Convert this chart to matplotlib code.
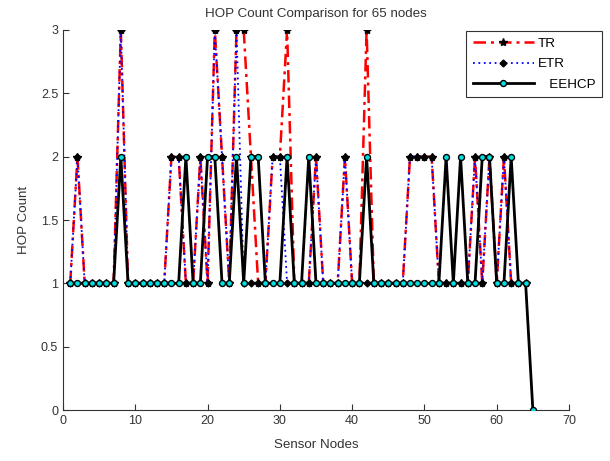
import matplotlib
matplotlib.use("Agg")
import matplotlib.pyplot as plt
import numpy as np

plt.rcParams['font.family'] = ['Liberation Sans', 'DejaVu Sans']

nodes_tr = list(range(1, 65))
tr = [1, 2, 1, 1, 1, 1, 1, 3, 1, 1,
      1, 1, 1, 1, 2, 2, 1, 1, 2, 1,
      3, 2, 1, 3, 3, 2, 1, 1, 2, 2,
      3, 1, 1, 1, 2, 1, 1, 1, 2, 1,
      1, 3, 1, 1, 1, 1, 1, 2, 2, 2,
      2, 1, 1, 1, 1, 1, 2, 1, 2, 1,
      2, 1, 1, 1]
etr = [1, 2, 1, 1, 1, 1, 1, 3, 1, 1,
       1, 1, 1, 1, 2, 2, 1, 1, 2, 1,
       3, 2, 1, 3, 1, 1, 1, 1, 2, 2,
       1, 1, 1, 1, 2, 1, 1, 1, 2, 1,
       1, 1, 1, 1, 1, 1, 1, 2, 2, 2,
       2, 1, 1, 1, 1, 1, 2, 1, 2, 1,
       2, 1, 1, 1]
nodes_ee = list(range(1, 66))
eehcp = [1, 1, 1, 1, 1, 1, 1, 2, 1, 1,
         1, 1, 1, 1, 1, 1, 2, 1, 1, 2,
         2, 1, 1, 2, 1, 2, 2, 1, 1, 1,
         2, 1, 1, 2, 1, 1, 1, 1, 1, 1,
         1, 2, 1, 1, 1, 1, 1, 1, 1, 1,
         1, 1, 2, 1, 2, 1, 1, 2, 2, 1,
         1, 2, 1, 1, 0]

xticks = [0, 10, 20, 30, 40, 50, 60, 70]
yticks = [0, 0.5, 1, 1.5, 2, 2.5, 3]
ytick_labels = ['0', '0.5', '1', '1.5', '2', '2.5', '3']

fig = plt.figure(figsize=(6.1, 4.61), dpi=100)
ax = fig.add_axes([63/610, 51/461, 506/610, 380/461])

ax.plot(nodes_tr, tr, color='red', linestyle=(0, (5, 2, 1.2, 2)), linewidth=1.8,
        marker='*', markersize=6, markerfacecolor='black', markeredgecolor='black',
        label='TR', zorder=2)
ax.plot(nodes_tr, etr, color='blue', linestyle=(0, (1, 2)), linewidth=1.3,
        marker='D', markersize=3.5, markerfacecolor='black', markeredgecolor='black',
        label='ETR', zorder=3)
ax.plot(nodes_ee, eehcp, color='black', linestyle='-', linewidth=2.0,
        marker='o', markersize=4.3, markerfacecolor='#00e0e0', markeredgecolor='black',
        markeredgewidth=1.0, label='   EEHCP', zorder=4)

ax.set_xlim(0, 70)
ax.set_ylim(0, 3)
ax.set_xticks(xticks)
ax.set_yticks(yticks)
ax.set_yticklabels(ytick_labels)
ax.tick_params(direction='in', length=4, labelsize=9, colors='#333333')
for s in ['top', 'right']:
    ax.spines[s].set_visible(False)
for s in ['left', 'bottom']:
    ax.spines[s].set_color('#333333')

ax.set_title('HOP Count Comparison for 65 nodes', fontsize=9.6, color='#333333', pad=9)
ax.set_xlabel('Sensor Nodes', fontsize=9.6, color='#333333', labelpad=9)
ax.set_ylabel('HOP Count', fontsize=9.6, color='#333333', labelpad=8)

leg = fig.legend(loc='upper left', bbox_to_anchor=(466/610, 1 - 31/461),
                 bbox_transform=fig.transFigure, fontsize=9.6, handlelength=4.6,
                 frameon=True, fancybox=False, borderaxespad=0, borderpad=0.5,
                 labelspacing=0.6, handletextpad=0.3)
leg.get_frame().set_edgecolor('black')
leg.get_frame().set_linewidth(0.8)

fig.savefig('out.png', dpi=100)
